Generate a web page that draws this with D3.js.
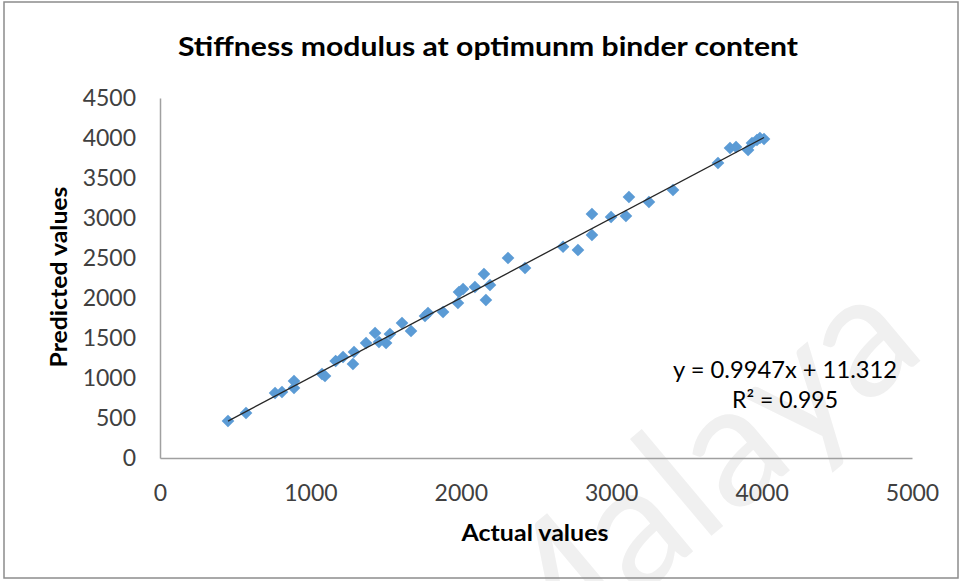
<!DOCTYPE html>
<html>
<head>
<meta charset="utf-8">
<script src="https://cdn.jsdelivr.net/npm/d3@7"></script>
<style>
  body { margin: 0; background: #fff; }
  svg { display: block; font-family: Lato, "Open Sans", sans-serif; }
</style>
</head>
<body>
<div id="chart"></div>
<script>
// values
const actual = [452, 572, 765, 811, 891, 891, 1077, 1097, 1168, 1217, 1283, 1290, 1370, 1430, 1456,
  1503, 1529, 1609, 1669, 1762, 1782, 1882, 1981, 1988, 2015, 2094, 2154, 2167, 2194, 2314,
  2427, 2680, 2779, 2872, 2872, 2999, 3098, 3118, 3251, 3411, 3710, 3790, 3830, 3910, 3936,
  3969, 3989, 4016];
const predicted = [462, 562, 812, 825, 962, 875, 1050, 1025, 1212, 1262, 1175, 1325, 1437, 1562, 1450,
  1437, 1550, 1687, 1587, 1775, 1812, 1825, 1937, 2075, 2112, 2137, 2300, 1975, 2162, 2500,
  2375, 2640, 2600, 2787, 3050, 3012, 3025, 3262, 3200, 3350, 3687, 3875, 3887, 3850, 3937,
  3975, 4000, 3987];
const xTicks = [0, 1000, 2000, 3000, 4000, 5000];
const yTicks = [0, 500, 1000, 1500, 2000, 2500, 3000, 3500, 4000, 4500];
const slope = 0.9947, intercept = 11.312;
const eqText = "y = 0.9947x + 11.312";
const r2Text = "R² = 0.995";

const W = 961, H = 581;
const svg = d3.select("#chart").append("svg")
  .attr("width", W).attr("height", H);

// faint watermark behind everything (cut by the page edge like in the scan)
svg.append("text")
  .attr("transform", "translate(516,700) rotate(-40)")
  .attr("font-size", 172)
  .attr("fill", "#f0f0f0")
  .text("Malaya");

// chart frame
svg.append("rect")
  .attr("x", 4).attr("y", 2).attr("width", 954).attr("height", 576)
  .attr("fill", "none").attr("stroke", "#8c8c8c").attr("stroke-width", 1.5);

const x = d3.scaleLinear().domain([0, 5000]).range([160, 912]);
const y = d3.scaleLinear().domain([0, 4500]).range([458, 98]);

const xAxis = svg.append("g")
  .attr("transform", `translate(0,${y(0)})`)
  .call(d3.axisBottom(x).tickValues(xTicks).tickSize(0).tickPadding(27).tickFormat(d3.format("d")));
const yAxis = svg.append("g")
  .attr("transform", `translate(${x(0)},0)`)
  .call(d3.axisLeft(y).tickValues(yTicks).tickSize(0).tickPadding(24).tickFormat(d3.format("d")));

[xAxis, yAxis].forEach(g => {
  g.select(".domain").attr("stroke", "#a0a0a0").attr("stroke-width", 1.5);
  g.selectAll("text").attr("font-family", "Lato, sans-serif").attr("font-size", 23).attr("fill", "#404040");
});

// diamonds
const diamond = d3.symbol().type(d3.symbolSquare).size(80);
svg.append("g").selectAll("path")
  .data(actual.map((a, i) => [a, predicted[i]]))
  .join("path")
  .attr("d", diamond)
  .attr("transform", d => `translate(${x(d[0])},${y(d[1])}) rotate(45)`)
  .attr("fill", "#5b9bd5");

// linear trend line, drawn on top of the markers
const xr = d3.extent(actual);
svg.append("line")
  .attr("x1", x(xr[0])).attr("y1", y(slope * xr[0] + intercept))
  .attr("x2", x(xr[1])).attr("y2", y(slope * xr[1] + intercept))
  .attr("stroke", "#262626").attr("stroke-width", 1.3);

// title + axis titles
svg.append("text")
  .attr("x", 488).attr("y", 56)
  .attr("text-anchor", "middle")
  .attr("font-weight", "bold").attr("font-size", 27).attr("fill", "#000")
  .attr("textLength", 620).attr("lengthAdjust", "spacingAndGlyphs")
  .text("Stiffness modulus at optimunm binder content");

svg.append("text")
  .attr("x", 535).attr("y", 541)
  .attr("text-anchor", "middle")
  .attr("font-weight", "bold").attr("font-size", 23).attr("fill", "#000")
  .attr("textLength", 147).attr("lengthAdjust", "spacingAndGlyphs")
  .text("Actual values");

svg.append("text")
  .attr("transform", "translate(67,277) rotate(-90)")
  .attr("text-anchor", "middle")
  .attr("font-weight", "bold").attr("font-size", 23).attr("fill", "#000")
  .attr("textLength", 181).attr("lengthAdjust", "spacingAndGlyphs")
  .text("Predicted values");

// regression label
svg.append("text")
  .attr("x", 785).attr("y", 378)
  .attr("text-anchor", "middle")
  .attr("font-size", 23).attr("fill", "#000")
  .attr("textLength", 224).attr("lengthAdjust", "spacingAndGlyphs")
  .text(eqText);
svg.append("text")
  .attr("x", 785).attr("y", 408)
  .attr("text-anchor", "middle")
  .attr("font-size", 23).attr("fill", "#000")
  .text(r2Text);
</script>
</body>
</html>
